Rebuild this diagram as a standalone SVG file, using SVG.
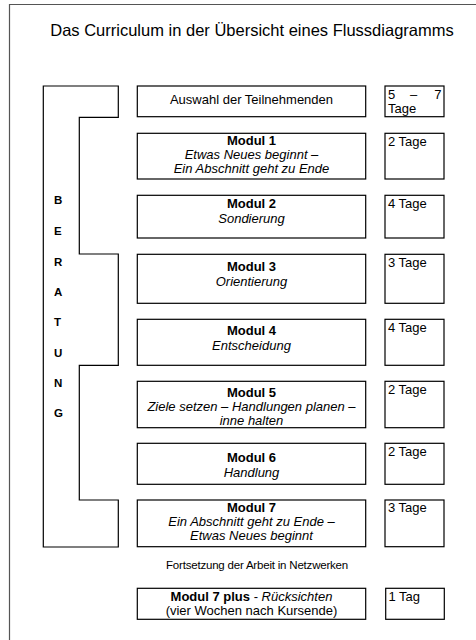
<svg xmlns="http://www.w3.org/2000/svg" width="476" height="640" viewBox="0 0 476 640">
<style>
.box{fill:#fff;stroke:#000;stroke-width:1.2}
text{font-family:"Liberation Sans",Arial,sans-serif;font-size:13px;fill:#000}
.c{text-anchor:middle}
.b{font-weight:bold}
.i{font-style:italic}
.ltr{font-weight:bold;font-size:11.5px}
</style>
<rect width="476" height="640" fill="#fff"/>
<path d="M9.5,640 V4.5 H476" fill="none" stroke="#555" stroke-width="1.2"/>
<text id="title" x="252" y="36" class="c" style="font-size:16.5px">Das Curriculum in der Übersicht eines Flussdiagramms</text>

<g id="beratung">
<path class="box" d="M43.3,86 H118.3 V117.3 H79.3 V254 H118.3 V365.3 H79.3 V500 H118.3 V547 H43.3 Z"/>
<text class="ltr" x="54" y="204">B</text>
<text class="ltr" x="54" y="235">E</text>
<text class="ltr" x="54" y="266">R</text>
<text class="ltr" x="54" y="295.5">A</text>
<text class="ltr" x="54" y="325.5">T</text>
<text class="ltr" x="54" y="356.5">U</text>
<text class="ltr" x="54" y="387">N</text>
<text class="ltr" x="54" y="416.5">G</text>
</g>

<g id="auswahl">
<rect class="box" x="137.3" y="86" width="228.4" height="30.7"/>
<text class="c" x="251.5" y="104">Auswahl der Teilnehmenden</text>
</g>
<g id="auswahl-tage">
<rect class="box" x="385" y="86" width="59" height="30.7"/>
<text x="388" y="98.5">5</text>
<text x="413.5" y="98.5" class="c">–</text>
<text x="441.5" y="98.5" style="text-anchor:end">7</text>
<text x="388" y="112.5">Tage</text>
</g>

<g id="modul1">
<rect class="box" x="137.3" y="133.3" width="228.4" height="45.7"/>
<text class="c b" x="251.5" y="145.3">Modul 1</text>
<text class="c i" x="251.5" y="159">Etwas Neues beginnt –</text>
<text class="c i" x="251.5" y="172.7">Ein Abschnitt geht zu Ende</text>
</g>
<g id="modul1-tage">
<rect class="box" x="385" y="133.3" width="59" height="45.7"/>
<text x="388" y="145.5">2 Tage</text>
</g>

<g id="modul2">
<rect class="box" x="137.3" y="195.3" width="228.4" height="42.7"/>
<text class="c b" x="251.5" y="208.3">Modul 2</text>
<text class="c i" x="251.5" y="222.7">Sondierung</text>
</g>
<g id="modul2-tage">
<rect class="box" x="385" y="195.3" width="59" height="42.7"/>
<text x="388" y="207.7">4 Tage</text>
</g>

<g id="modul3">
<rect class="box" x="137.3" y="254.3" width="228.4" height="49"/>
<text class="c b" x="251.5" y="270.7">Modul 3</text>
<text class="c i" x="251.5" y="285.7">Orientierung</text>
</g>
<g id="modul3-tage">
<rect class="box" x="385" y="254.3" width="59" height="49"/>
<text x="388" y="266.5">3 Tage</text>
</g>

<g id="modul4">
<rect class="box" x="137.3" y="319.3" width="228.4" height="46"/>
<text class="c b" x="251.5" y="335">Modul 4</text>
<text class="c i" x="251.5" y="350">Entscheidung</text>
</g>
<g id="modul4-tage">
<rect class="box" x="385" y="319.3" width="59" height="46"/>
<text x="388" y="331.5">4 Tage</text>
</g>

<g id="modul5">
<rect class="box" x="137.3" y="381.3" width="228.4" height="46.4"/>
<text class="c b" x="251.5" y="396.7">Modul 5</text>
<text class="c i" x="251.5" y="411">Ziele setzen – Handlungen planen –</text>
<text class="c i" x="251.5" y="424.7">inne halten</text>
</g>
<g id="modul5-tage">
<rect class="box" x="385" y="381.3" width="59" height="46.4"/>
<text x="388" y="393.5">2 Tage</text>
</g>

<g id="modul6">
<rect class="box" x="137.3" y="443.3" width="228.4" height="41"/>
<text class="c b" x="251.5" y="461.7">Modul 6</text>
<text class="c i" x="251.5" y="476.7">Handlung</text>
</g>
<g id="modul6-tage">
<rect class="box" x="385" y="443.3" width="59" height="41"/>
<text x="388" y="455.5">2 Tage</text>
</g>

<g id="modul7">
<rect class="box" x="137.3" y="500" width="228.4" height="46.7"/>
<text class="c b" x="251.5" y="512.3">Modul 7</text>
<text class="c i" x="251.5" y="526.3">Ein Abschnitt geht zu Ende –</text>
<text class="c i" x="251.5" y="540.3">Etwas Neues beginnt</text>
</g>
<g id="modul7-tage">
<rect class="box" x="385" y="500" width="59" height="46.7"/>
<text x="388" y="512.3">3 Tage</text>
</g>

<text id="fortsetzung" class="c" x="257" y="569" style="font-size:11.5px;letter-spacing:-0.2px">Fortsetzung der Arbeit in Netzwerken</text>

<g id="modul7plus">
<rect class="box" x="137.3" y="588.3" width="228.4" height="31"/>
<text class="c" x="251.5" y="601"><tspan class="b">Modul 7 plus</tspan> - <tspan class="i">Rücksichten</tspan></text>
<text class="c" x="251.5" y="615">(vier Wochen nach Kursende)</text>
</g>
<g id="modul7plus-tage">
<rect class="box" x="385.7" y="588.3" width="58.6" height="31"/>
<text x="388.5" y="600.5">1 Tag</text>
</g>
</svg>
